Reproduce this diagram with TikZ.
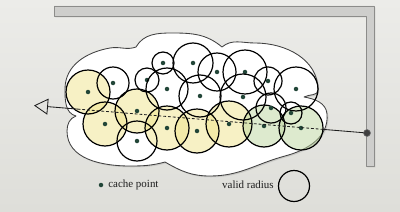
\documentclass[tikz,border=0pt]{standalone}
\usepackage{fontspec}
\setmainfont{Liberation Serif}
\usetikzlibrary{calc,shadows,arrows.meta}
\definecolor{bgtop}{RGB}{236,236,233}
\definecolor{bgbot}{RGB}{222,222,217}
\definecolor{wallfill}{RGB}{206,206,204}
\definecolor{walledge}{RGB}{140,140,138}
\definecolor{validyel}{RGB}{240,228,140}
\definecolor{validgrn}{RGB}{188,214,158}
\definecolor{cachedot}{RGB}{34,70,56}
\definecolor{inkgray}{RGB}{30,30,30}
\begin{document}
\begin{tikzpicture}[x=0.025cm, y=0.025cm, line join=round, line cap=round,
  validcirc/.style={draw=black, line width=0.85pt},
  yelfill/.style={fill=validyel, fill opacity=0.5},
  grnfill/.style={fill=validgrn, fill opacity=0.5},
  cachept/.style={circle, fill=cachedot, inner sep=0pt, minimum size=3.2pt},
  legendtxt/.style={font=\fontsize{7.8}{9}\selectfont, text=inkgray, inner sep=0pt},
  raypath/.style={draw=inkgray, line width=0.6pt},
  softshadow/.style={drop shadow={shadow xshift=0.9pt, shadow yshift=-0.9pt, opacity=0.25}}]
\useasboundingbox (0,0) rectangle (400,211);
\shade[top color=bgtop, bottom color=bgbot] (0,0) rectangle (400,211);

\fill[wallfill, draw=walledge, line width=0.5pt, softshadow]
  (54,205) -- (374,205) -- (374,45) -- (366,45) -- (366,195) -- (54,195) -- cycle;

\filldraw[fill=white, draw=black!75, line width=0.6pt, softshadow]
  (76,95) to[out=165,in=270] (65,122) to[out=90,in=190] (110,163)
  to[out=10,in=200] (136,164) to[out=60,in=180] (172,178)
  to[out=0,in=140] (222,164) to[out=40,in=180] (255,168)
  to[out=0,in=90] (318,121) to[out=270,in=30] (304,114)
  to[out=-10,in=95] (327,97) to[out=275,in=15] (285,55)
  to[out=195,in=0] (210,35) to[out=180,in=-30] (165,49)
  to[out=195,in=0] (130,45) to[out=180,in=270] (67,80)
  to[out=90,in=200] (76,95) -- cycle;

\foreach \px/\py/\r in {88/119/22, 137/100/22, 105/87/22, 167/83/22, 197/80/22, 229/87/23}
  \fill[yelfill] (\px,\py) circle (\r);
\foreach \px/\py/\r in {264/85/21, 301/83/22}
  \fill[grnfill] (\px,\py) circle (\r);

\foreach \px/\py/\r [count=\i] in {88/119/22, 137/100/22, 105/87/22, 167/83/22, 197/80/22,
    229/87/23, 264/85/21, 301/83/22, 113/128/16, 147/131/12, 163/148/11, 193/148/20,
    167/122/21, 217/139/19, 245/139/22, 268/130/14, 296/122/22, 200/115/21, 243/114/23,
    137/70/20, 271/103/15, 291/98/11} {
  \draw[validcirc] (\px,\py) circle (\r);
  \node[cachept] (cp\i) at (\px,\py) {};
}

\node[circle, fill=black!75, draw=black!55, line width=0.4pt, inner sep=0pt, minimum size=5pt] (hit) at (367,78) {};
\coordinate (eye) at (34,105.5);
\coordinate (exitpt) at ($(hit.center)!0.132!(eye)$);
\coordinate (entrypt) at ($(hit.center)!0.862!(eye)$);
\draw[raypath] (hit) -- (exitpt);
\draw[raypath, dash pattern=on 1.6pt off 1.8pt] (exitpt) -- (entrypt);
\draw[raypath, -{Triangle[open, length=3.5mm, width=4mm]}] (entrypt) -- (eye);

\node[cachept] (legdot) at (101,26) {};
\node[legendtxt, anchor=west] (cachelbl) at (108,26) {cache point};
\node[legendtxt, anchor=east] (radiuslbl) at (274,26) {valid radius};
\draw[validcirc] (294,25) circle (15.5);
\end{tikzpicture}
\end{document}
